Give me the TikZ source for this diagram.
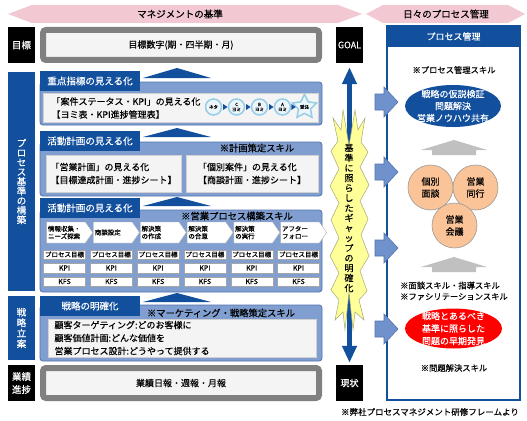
\documentclass[tikz,border=0pt]{standalone}
\usepackage{fontspec}
\setmainfont{Noto Sans CJK JP}[FakeBold=0.35]
\usetikzlibrary{calc,shapes.geometric,shapes.symbols,arrows.meta}

\definecolor{navy}{RGB}{18,80,158}
\definecolor{paleblue}{RGB}{128,158,207}
\definecolor{rimblue}{RGB}{82,114,174}
\definecolor{bannerpink}{RGB}{242,200,210}
\definecolor{framegray}{RGB}{128,128,128}
\definecolor{paper}{RGB}{244,244,244}
\definecolor{starfill}{RGB}{255,255,153}
\definecolor{staredge}{RGB}{165,165,120}
\definecolor{peach}{RGB}{250,196,152}
\definecolor{risegray}{RGB}{192,192,192}
\definecolor{midblue}{RGB}{112,146,204}
\definecolor{ringblue}{RGB}{150,205,230}
\definecolor{ringfill}{RGB}{236,246,250}
\definecolor{alarm}{RGB}{255,0,0}

\begin{document}
\begin{tikzpicture}[x=1pt,y=-1pt,
  tab/.style={fill=navy,text=white,minimum width=100pt,minimum height=20pt,inner sep=0pt,font=\fontsize{9.5}{11}\selectfont},
  panel/.style={fill=paleblue,draw=rimblue,line width=0.8pt,rounded corners=3pt},
  sheet/.style={fill=paper,draw=black!18,line width=0.4pt,inner sep=0pt},
  grayframe/.style={fill=paper,draw=framegray,line width=6pt,rounded corners=3pt,minimum width=276pt,minimum height=30pt,font=\fontsize{9}{11}\selectfont},
  sidelabel/.style={text=white,minimum width=27pt,inner sep=0pt,align=center,font=\fontsize{9.5}{9.6}\selectfont},
  lift/.style={fill=navy},
  skill/.style={font=\fontsize{9.3}{11}\selectfont},
  rskill/.style={font=\fontsize{8.3}{11}\selectfont},
  bodytext/.style={align=left,font=\fontsize{9}{13}\selectfont},
  stage/.style={signal,signal to=east,signal pointer angle=110,fill=white,draw=black!30,line width=0.4pt,minimum width=46pt,minimum height=21pt,inner sep=1pt,text width=36pt,align=left,font=\fontsize{6.5}{7.5}\selectfont},
  cell/.style={fill=white,draw=black!35,line width=0.4pt,minimum width=42pt,minimum height=9.5pt,inner sep=0pt,font=\fontsize{6.5}{7}\selectfont},
  yomi/.style={circle,fill=ringfill,draw=ringblue,line width=1.5pt,minimum size=16pt,inner sep=0pt,align=center,font=\fontsize{4.5}{5}\selectfont},
  feed/.style={fill=midblue,draw=rimblue,line width=0.6pt},
  talk/.style={circle,fill=peach,draw=black!40,line width=0.6pt,minimum size=45pt,inner sep=0pt,align=center,font=\fontsize{9}{12}\selectfont},
  ovaltext/.style={text=white,inner sep=0pt,align=center},
  rise/.style={fill=risegray},
  blackbox/.style={fill=black,text=white,minimum width=27pt,minimum height=36pt,inner sep=0pt,font=\fontsize{9}{11}\selectfont}
]
\useasboundingbox (0,0) rectangle (527,420);
\fill[white] (0,0) rectangle (527,420);

% banners
\fill[bannerpink] (8,14) -- (32,5) -- (338,5) -- (362,14) -- (338,23) -- (32,23) -- cycle;
\node[font=\fontsize{9.5}{11}\selectfont] (mgmt) at (180,14) {マネジメントの基準};
\fill[bannerpink] (366,14) -- (383,5) -- (508,5) -- (525,14) -- (508,23) -- (383,23) -- cycle;
\node[font=\fontsize{9.5}{11}\selectfont] (daily) at (446,14) {日々のプロセス管理};

% left column
\node[sidelabel,fill=black,minimum height=36pt] (goallab) at (21.5,45) {目標};
\node[sidelabel,fill=navy,minimum height=219pt] (proclab) at (21.5,181.5) {プ\\ロ\\セ\\ス\\基\\準\\の\\構\\築};
\node[sidelabel,fill=navy,minimum height=64pt,font=\fontsize{9.5}{10.5}\selectfont] (stratlab) at (21.5,328) {戦\\略\\立\\案};
\node[sidelabel,fill=black,minimum height=36pt,font=\fontsize{9.5}{13}\selectfont] (resultlab) at (21.5,383) {業績\\進捗};

\node[grayframe] (target) at (181,45) {目標数字(期・四半期・月)};
\node[grayframe] (report) at (181,383) {業績日報・週報・月報};

% key indicators
\fill[lift] (143,78) -- (177,68) -- (211,78) -- cycle;
\draw[panel] (40,82) rectangle (322,125);
\node[tab] (tab1) at (90,81) {重点指標の見える化};
\draw[sheet] (43,93) rectangle (318,122);
\node[bodytext,anchor=west] (kpitext) at (48,108) {「案件ステータス・KPI」の見える化\\【ヨミ表・KPI進捗管理表】};
\node[yomi] (neta) at (213.5,107) {ネタ};
\node[yomi] (yomiC) at (236.5,107) {C\\ヨミ};
\node[yomi] (yomiB) at (259.5,107) {B\\ヨミ};
\node[yomi] (yomiA) at (282.5,107) {A\\ヨミ};
\node[star,star points=5,star point ratio=2,draw=ringblue,fill=ringfill,line width=1.5pt,inner sep=0pt,minimum size=19pt,font=\fontsize{4.5}{5}\selectfont] (order) at (304.5,107) {受注};
\foreach \a/\b in {neta/yomiC,yomiC/yomiB,yomiB/yomiA,yomiA/order}
  \fill[navy] ($(\a.east)!0.5!(\b.west)$) ++(-2,-3) -- ++(4.5,3) -- ++(-4.5,3) -- cycle;

% activity plan
\fill[lift] (143,137) -- (177,128) -- (211,137) -- cycle;
\draw[panel] (40,142) rectangle (322,196);
\node[tab] (tab2) at (90,141) {活動計画の見える化};
\node[skill] (planskill) at (257,148) {※計画策定スキル};
\node[sheet,bodytext,minimum width=135pt,minimum height=37pt] (salesplan) at (113.5,173.5) {「営業計画」の見える化\\【目標達成計画・進捗シート】};
\node[sheet,bodytext,minimum width=132pt,minimum height=37pt] (dealplan) at (252,173.5) {「個別案件」の見える化\\【商談計画・進捗シート】};

% process steps
\fill[lift] (143,206) -- (177,197) -- (211,206) -- cycle;
\draw[panel] (40,210) rectangle (322,292);
\node[tab] (tab3) at (90,208) {活動計画の見える化};
\node[skill] (buildskill) at (237,216) {※営業プロセス構築スキル};
\foreach \txt [count=\i from 0] in {{情報収集・\\ニーズ探索},{商談設定},{解決策\\の作成},{解決策\\の合意},{解決策\\の実行},{アフター\\フォロー}} {
  \node[stage] (stage\i) at (66+46.8*\i,232.5) {\txt};
  \node[cell] (aim\i) at (64.5+46.8*\i,254.5) {プロセス目標};
  \node[cell,font=\fontsize{7}{7}\selectfont] (kpi\i) at (64.5+46.8*\i,268) {KPI};
  \node[cell,font=\fontsize{7}{7}\selectfont] (kfs\i) at (64.5+46.8*\i,281.5) {KFS};
}

% strategy
\fill[lift] (143,302) -- (177,293) -- (211,302) -- cycle;
\draw[panel] (40,305) rectangle (322,361);
\node[tab] (tab4) at (90,306) {戦略の明確化};
\node[skill] (mktskill) at (221,313) {※マーケティング・戦略策定スキル};
\draw[sheet] (48,319) rectangle (316,357);
\node[bodytext,anchor=west] (strategy) at (51,338) {顧客ターゲティング:どのお客様に\\顧客価値計画:どんな価値を\\営業プロセス設計:どうやって提供する};

% gap
\node[blackbox] (goalbox) at (349.5,45) {GOAL};
\node[blackbox] (now) at (349.5,383) {現状};
\draw[navy,line width=5pt,{Triangle[width=14pt,length=17pt]}-{Triangle[width=14pt,length=17pt]},shorten <=4pt,shorten >=2pt] (goalbox) -- (now);
\filldraw[fill=starfill,draw=staredge,line width=0.5pt] (349,146) -- (355,110) -- (358,130) -- (365,118) -- (361,142) -- (368,152) -- (360,167) -- (369,185) -- (360,201) -- (368,219) -- (361,235) -- (369,256) -- (360,271) -- (367,291) -- (359,300) -- (364,320) -- (355,312) -- (353,330) -- (349,292) -- (345,330) -- (343,312) -- (335,320) -- (339,300) -- (331,290) -- (339,273) -- (330,256) -- (339,238) -- (331,220) -- (339,203) -- (330,186) -- (339,169) -- (331,151) -- (338,141) -- (333,118) -- (341,130) -- (343,110) -- cycle;
\node[align=center,inner sep=0pt,font=\fontsize{9}{10}\selectfont] (gaptext) at (349,218) {基\\準\\に\\照\\ら\\し\\た\\ギ\\ャ\\ッ\\プ\\の\\明\\確\\化};

% daily process
\draw[navy,line width=1.5pt,fill=white] (387,26) rectangle (520,400);
\node[fill=navy,text=white,minimum width=133pt,minimum height=21pt,inner sep=0pt,font=\fontsize{9}{11}\selectfont] (pmtitle) at (453.5,36.5) {プロセス管理};
\foreach \y in {102,172,248,329}
  \draw[feed] (375,\y-8) -- (384,\y-8) -- (384,\y-15) -- (398,\y) -- (384,\y+15) -- (384,\y+8) -- (375,\y+8) -- cycle;
\node[rskill] (pmskill) at (454,70) {※プロセス管理スキル};
\fill[navy] (453,106) ellipse (48 and 21);
\node[ovaltext,font=\fontsize{9}{12}\selectfont] (hypo) at (453,106) {戦略の仮説検証\\問題解決\\営業ノウハウ共有};
\fill[rise] (454,140) -- (487,150) -- (476,150) -- (476,155) -- (432,155) -- (432,150) -- (421,150) -- cycle;
\node[talk] (interview) at (430.5,187.5) {個別\\面談};
\node[talk] (ride) at (475.5,187.5) {営業\\同行};
\node[talk] (meeting) at (454.5,225.5) {営業\\会議};
\fill[rise] (454,257) -- (487,267) -- (476,267) -- (476,272) -- (432,272) -- (432,267) -- (421,267) -- cycle;
\node[rskill,align=left] (coachskill) at (454,291) {※面談スキル・指導スキル\\※ファシリテーションスキル};
\fill[alarm] (453.5,328.5) ellipse (48.5 and 20);
\node[ovaltext,font=\fontsize{9}{12.5}\selectfont] (early) at (453.5,328.5) {戦略とあるべき\\基準に照らした\\問題の早期発見};
\node[rskill] (solveskill) at (454,368) {※問題解決スキル};

\node[font=\fontsize{8.5}{11}\selectfont] (source) at (430,412) {※弊社プロセスマネジメント研修フレームより};

\end{tikzpicture}
\end{document}
